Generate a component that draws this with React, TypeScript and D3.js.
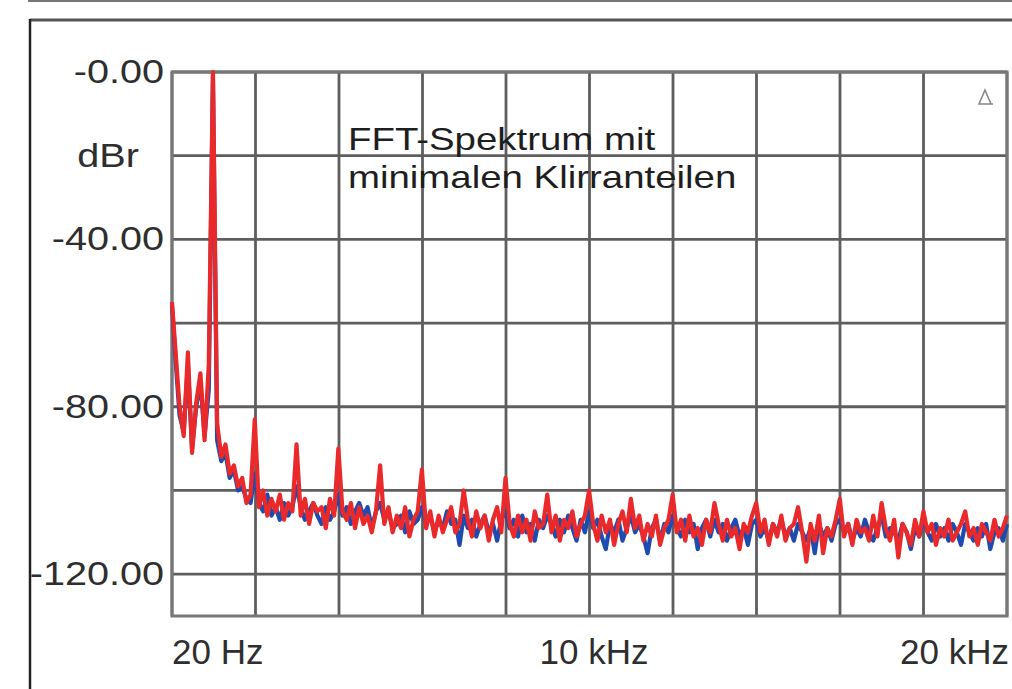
import React from 'react';
import * as d3 from 'd3';

const W = 1012;
const H = 689;

// axis labels as printed on the analyser plot
const yTicks = [0, -40, -80, -120];
const yTickLabels = ['-0.00', '-40.00', '-80.00', '-120.00'];
const yUnit = 'dBr';
const xTicks = [20, 10000, 20000];
const xTickLabels = ['20 Hz', '10 kHz', '20 kHz'];
const noteLines = ['FFT-Spektrum mit', 'minimalen Klirranteilen'];

// FFT bins: first bin is 20 Hz, then every 100 Hz up to 20 kHz
const fStart = 20;
const fEnd = 20000;
const binHz = 100;

// red channel, dBr per bin
const redDb = [
  -55, -66, -80, -87, -67, -91, -79, -72, -88, -70, 0,
  -84, -92, -89, -96, -94, -99, -97, -103, -101,
  -83, -104, -100, -106, -102, -105, -101, -107, -103, -105,
  -89, -106, -102, -108, -103, -105, -104, -109, -102, -106,
  -90, -105, -107, -103, -109, -104, -108, -106, -110, -105,
  -94, -108, -104, -110, -106, -109, -104, -111, -107, -105,
  -95, -109, -105, -111, -106, -110, -107, -104, -110, -108,
  -100, -107, -111, -105, -109, -106, -112, -107, -104, -110,
  -97, -108, -111, -106, -110, -107, -112, -105, -109, -108,
  -101, -110, -106, -112, -107, -109, -105, -111, -108, -106,
  -100, -108, -112, -106, -110, -107, -113, -108, -105, -110,
  -102, -109, -106, -112, -108, -111, -106, -113, -109, -107,
  -101, -110, -107, -112, -106, -111, -109, -113, -107, -110,
  -103, -108, -112, -107, -111, -109, -114, -108, -110, -106,
  -103, -110, -107, -113, -108, -111, -106, -112, -109, -108,
  -104, -110, -117, -108, -112, -106, -115, -109, -111, -107,
  -102, -111, -108, -113, -107, -110, -109, -112, -106, -111,
  -103, -109, -112, -107, -116, -108, -110, -113, -107, -111,
  -105, -110, -108, -113, -109, -111, -107, -112, -110, -108,
  -105, -111, -109, -113, -108, -110, -112, -107, -111, -109,
  -106,
];

// blue channel, dBr per bin
const blueDb = [
  -56, -68, -82, -86, -70, -90, -80, -74, -87, -76, -1,
  -88, -93, -91, -97, -95, -100, -99, -102, -103,
  -96, -103, -105, -101, -106, -104, -107, -103, -106, -104,
  -99, -104, -107, -105, -103, -106, -108, -104, -107, -105,
  -101, -106, -104, -108, -105, -103, -106, -104, -109, -105,
  -103, -107, -105, -109, -108, -106, -110, -105, -108, -107,
  -104, -108, -106, -110, -107, -109, -105, -108, -107, -113,
  -106, -109, -107, -111, -108, -106, -110, -108, -112, -107,
  -105, -109, -107, -111, -106, -110, -108, -112, -107, -109,
  -106, -108, -111, -107, -110, -106, -109, -112, -107, -110,
  -105, -109, -107, -111, -114, -108, -110, -107, -112, -109,
  -106, -110, -108, -111, -115, -109, -107, -112, -108, -110,
  -106, -109, -111, -107, -110, -108, -114, -109, -107, -111,
  -107, -110, -108, -112, -109, -107, -111, -109, -113, -108,
  -107, -111, -109, -112, -108, -110, -107, -111, -109, -112,
  -108, -110, -112, -109, -115, -108, -111, -109, -112, -108,
  -107, -110, -108, -112, -109, -111, -107, -110, -112, -109,
  -106, -111, -109, -110, -112, -108, -110, -114, -109, -111,
  -107, -110, -112, -108, -111, -109, -112, -108, -110, -113,
  -108, -110, -112, -109, -111, -108, -114, -110, -109, -112,
  -108,
];

const FONT = "'Liberation Sans', Arial, sans-serif";

export default function App() {
  const x = d3.scaleLinear().domain([fStart, fEnd]).range([172, 1007]);
  const y = d3.scaleLinear().domain([0, -130]).range([72, 616]);

  // 10 equal divisions across the band
  const div = d3.scaleLinear().domain([0, 10]).range([fStart, fEnd]);
  const vGrid = d3.range(0, 11).map(i => div(i));
  const hGrid = d3.range(0, -121, -20);

  const binFreq = (i: number) => (i === 0 ? fStart : i * binHz);
  const line = d3.line<number>()
    .x((_, i) => x(binFreq(i)))
    .y(d => y(d))
    .curve(d3.curveLinear);

  const xAnchor = ['start', 'middle', 'end'];
  const xShift = [0, 5, 2];

  return (
    <svg width={W} height={H} style={{ position: 'absolute', left: 0, top: 0, background: '#fff' }}>
      {/* remains of the title box above */}
      <line x1={28} x2={W} y1={1} y2={1} stroke="#777" strokeWidth={2} />

      {/* plot background + grid */}
      <rect x={x(fStart)} y={y(0)} width={x(fEnd) - x(fStart)} height={y(-130) - y(0)} fill="#fff" />
      {hGrid.map(v => (
        <line key={'h' + v} x1={x(fStart)} x2={x(fEnd)} y1={y(v)} y2={y(v)} stroke="#5e5e5e" strokeWidth={2.8} />
      ))}
      {vGrid.map((f, i) => (
        <line key={'v' + i} x1={x(f)} x2={x(f)} y1={y(0)} y2={y(-130)} stroke="#5e5e5e" strokeWidth={2.8} />
      ))}
      <rect x={x(fStart)} y={y(0)} width={x(fEnd) - x(fStart)} height={y(-130) - y(0)}
        fill="none" stroke="#777" strokeWidth={3} />

      {/* spectra */}
      <path d={line(blueDb) || ''} fill="none" stroke="#1d4bb0" strokeWidth={4.2} strokeLinejoin="round" />
      <path d={line(redDb) || ''} fill="none" stroke="#ea2a2a" strokeWidth={4.2} strokeLinejoin="round" />

      {/* y labels */}
      {yTicks.map((v, i) => (
        <text key={'yl' + v} transform={`translate(164,${y(v) + 11}) scale(1.2,1)`}
          textAnchor="end" fontFamily={FONT} fontSize={33} fill="#2e2e2e">{yTickLabels[i]}</text>
      ))}
      <text transform={`translate(108,167) scale(1.2,1)`} textAnchor="middle"
        fontFamily={FONT} fontSize={33} fill="#2e2e2e">{yUnit}</text>

      {/* x labels */}
      {xTicks.map((f, i) => (
        <text key={'xl' + f} x={x(f) + xShift[i]} y={664} textAnchor={xAnchor[i] as any}
          fontFamily={FONT} fontSize={35} fill="#2e2e2e">{xTickLabels[i]}</text>
      ))}

      {/* annotation */}
      {noteLines.map((t, i) => (
        <text key={'n' + i} transform={`translate(348,${150 + i * 38}) scale(1.2,1)`}
          fontFamily={FONT} fontSize={32} fill="#1e1e1e">{t}</text>
      ))}

      {/* small delta marker, top right */}
      <path d="M979,104 L985,90 L991,104 Z M985,104 L993,104" fill="none" stroke="#888" strokeWidth={1.6} />

      {/* outer frame */}
      <line x1={30} x2={W} y1={20} y2={20} stroke="#555" strokeWidth={3} />
      <line x1={30} x2={30} y1={19} y2={H} stroke="#222" strokeWidth={2.5} />
    </svg>
  );
}
